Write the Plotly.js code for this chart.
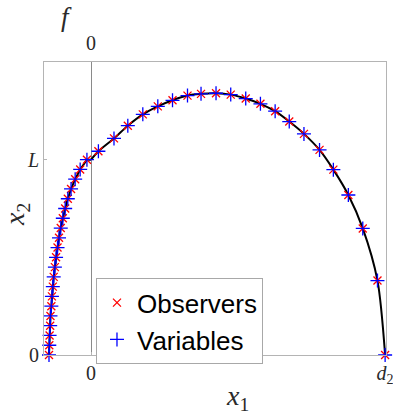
<!DOCTYPE html>
<html>
<head>
<meta charset="utf-8">
<script src="https://cdn.plot.ly/plotly-3.0.1.min.js"></script>
<style>
  html, body { margin: 0; padding: 0; background: #fff; }
  #chart { width: 393px; height: 415px; }
</style>
</head>
<body>
<div id="chart"></div>
<script>
// left branch (x < 0), y = 0 .. L
const leftY = [0, 0.05, 0.1, 0.15, 0.2, 0.25, 0.3, 0.35, 0.4, 0.45, 0.5,
  0.55, 0.6, 0.65, 0.7, 0.75, 0.8, 0.85, 0.9, 0.95, 1.0];
const leftX = [-0.143, -0.142, -0.141, -0.139, -0.138, -0.135, -0.133, -0.130, -0.127, -0.123, -0.119,
  -0.114, -0.109, -0.103, -0.096, -0.088, -0.079, -0.068, -0.054, -0.037, -0.014];

// arc from (0, L) down to (d2, 0)
const arcX = [0, 0.025, 0.078, 0.125, 0.176, 0.227, 0.277, 0.328, 0.374, 0.425, 0.475,
  0.526, 0.576, 0.626, 0.674, 0.724, 0.777, 0.824, 0.875, 0.924, 0.974, 1.0];
const arcY = [1.0, 1.043, 1.109, 1.174, 1.232, 1.273, 1.304, 1.328, 1.337, 1.340, 1.333,
  1.313, 1.286, 1.248, 1.195, 1.132, 1.050, 0.949, 0.819, 0.648, 0.381, 0];

const xTickVals = [0, 1];
const xTickText = ['0', '<i>d</i><sub>2</sub>'];
const yTickVals = [0, 1];
const yTickText = ['0', '<i>L</i>'];

const legendNames = ['Observers', 'Variables'];

// sampled points = left branch + arc (without the joint point)
const ptsX = leftX.concat(arcX.slice(1));
const ptsY = leftY.concat(arcY.slice(1));

const serif = 'Liberation Serif, DejaVu Serif, serif';
const sans = 'Liberation Sans, Arial, sans-serif';
const txt = '#2a2a2a';

const traces = [
  { x: leftX.concat([0]), y: leftY.concat([1]), mode: 'lines', line: { color: '#000', width: 2 },
    showlegend: false, hoverinfo: 'skip', cliponaxis: false },
  { x: arcX, y: arcY, mode: 'lines', line: { color: '#000', width: 2, shape: 'spline', smoothing: 0.8 },
    showlegend: false, hoverinfo: 'skip', cliponaxis: false },
  { x: ptsX, y: ptsY, mode: 'markers', name: legendNames[0], cliponaxis: false,
    marker: { symbol: 'x-thin-open', size: 8, color: '#ff0000', line: { color: '#ff0000', width: 1.3 } } },
  { x: ptsX, y: ptsY, mode: 'markers', name: legendNames[1], cliponaxis: false,
    marker: { symbol: 'cross-thin-open', size: 10, color: '#0000ff', line: { color: '#0000ff', width: 1.3 } } }
];

const layout = {
  width: 393, height: 415,
  margin: { l: 44, r: 7, t: 62, b: 60 },
  paper_bgcolor: '#fff', plot_bgcolor: '#fff',
  showlegend: true,
  legend: {
    x: 0.152, y: 0.262, xanchor: 'left', yanchor: 'top',
    bgcolor: '#fff', bordercolor: '#a8a8a8', borderwidth: 1,
    font: { family: sans, size: 26, color: '#000' },
    tracegroupgap: 0, itemwidth: 30
  },
  xaxis: {
    range: [-0.16, 1.003], showgrid: false,
    zeroline: true, zerolinecolor: '#8a8a8a', zerolinewidth: 1,
    showline: true, mirror: true, linecolor: '#b4b4b4', linewidth: 1,
    ticks: 'inside', ticklen: 3, tickcolor: '#b4b4b4',
    tickvals: xTickVals, ticktext: xTickText, ticklabeloverflow: 'allow',
    tickfont: { family: serif, size: 20, color: txt }
  },
  yaxis: {
    range: [0, 1.5], showgrid: false, zeroline: false,
    showline: true, mirror: true, linecolor: '#b4b4b4', linewidth: 1,
    ticks: 'inside', ticklen: 3, tickcolor: '#b4b4b4',
    tickvals: yTickVals, ticktext: yTickText, ticklabeloverflow: 'allow',
    tickfont: { family: serif, size: 20, color: txt }
  },
  annotations: [
    { text: '<i>f</i>', xref: 'paper', yref: 'paper', x: 0.067, y: 1.154,
      xanchor: 'center', yanchor: 'middle',
      showarrow: false, font: { family: serif, size: 27, color: txt } },
    { text: '0', xref: 'x', yref: 'paper', x: 0, y: 1, yshift: 19,
      xanchor: 'center', yanchor: 'middle',
      showarrow: false, font: { family: serif, size: 20, color: txt } },
    { text: '<i>x</i><sub>1</sub>', xref: 'paper', yref: 'paper', x: 0.565, y: -0.145,
      xanchor: 'center', yanchor: 'middle',
      showarrow: false, font: { family: serif, size: 28, color: txt } },
    { text: '<i>x</i><sub>2</sub>', xref: 'paper', yref: 'paper', x: -0.08, y: 0.48, textangle: -90,
      xanchor: 'center', yanchor: 'middle',
      showarrow: false, font: { family: serif, size: 28, color: txt } }
  ]
};

Plotly.newPlot('chart', traces, layout, { displayModeBar: false, staticPlot: true });
</script>
</body>
</html>
